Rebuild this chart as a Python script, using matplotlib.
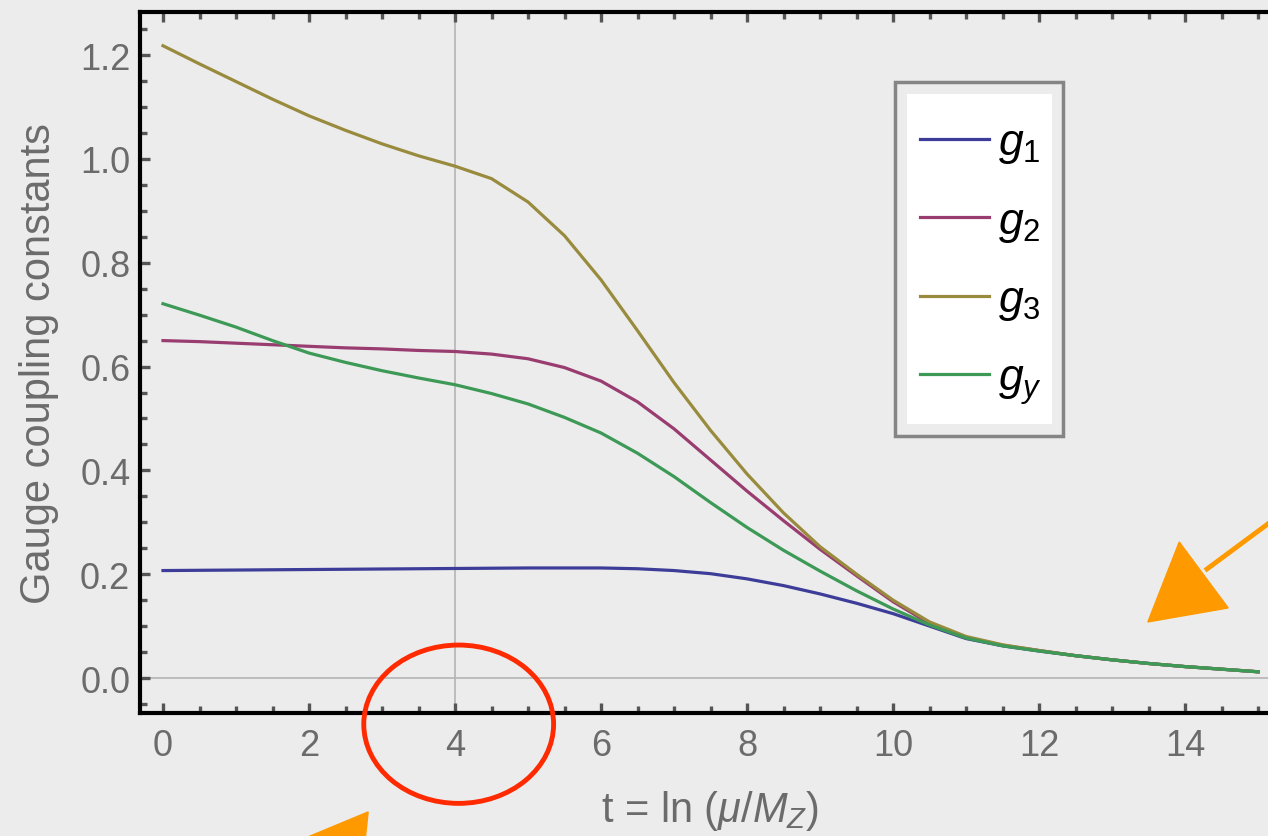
import numpy as np
import matplotlib
matplotlib.use("Agg")
import matplotlib.pyplot as plt
from matplotlib.patches import Rectangle, Ellipse, Polygon
from matplotlib.ticker import MultipleLocator

# running gauge couplings
t = [0, 0.5, 1, 1.5, 2, 2.5, 3, 3.5, 4, 4.5, 5, 5.5, 6, 6.5, 7, 7.5,
     8, 8.5, 9, 9.5, 10, 10.5, 11, 11.5, 12, 12.5, 13, 13.5, 14, 14.5, 15]
g1 = [0.207, 0.2075, 0.208, 0.2085, 0.209, 0.2095, 0.210, 0.2105, 0.211, 0.2115,
      0.212, 0.212, 0.212, 0.2105, 0.207, 0.201, 0.191, 0.178, 0.162, 0.144,
      0.124, 0.100, 0.076, 0.062, 0.052, 0.043, 0.035, 0.028, 0.022, 0.017, 0.012]
g2 = [0.650, 0.648, 0.645, 0.642, 0.639, 0.636, 0.634, 0.631, 0.629, 0.624,
      0.615, 0.598, 0.572, 0.532, 0.480, 0.420, 0.360, 0.303, 0.248, 0.197,
      0.147, 0.105, 0.078, 0.063, 0.053, 0.043, 0.035, 0.028, 0.022, 0.017, 0.012]
g3 = [1.218, 1.183, 1.149, 1.115, 1.083, 1.055, 1.029, 1.006, 0.986, 0.962,
      0.917, 0.852, 0.767, 0.669, 0.569, 0.477, 0.393, 0.318, 0.253, 0.200,
      0.150, 0.108, 0.080, 0.064, 0.053, 0.043, 0.035, 0.028, 0.022, 0.017, 0.012]
gy = [0.721, 0.699, 0.676, 0.650, 0.626, 0.608, 0.592, 0.578, 0.565, 0.548,
      0.528, 0.502, 0.472, 0.433, 0.388, 0.338, 0.290, 0.246, 0.206, 0.168,
      0.133, 0.102, 0.077, 0.062, 0.052, 0.043, 0.035, 0.028, 0.022, 0.017, 0.012]

series = [g1, g2, g3, gy]
labels = [r"$g_1$", r"$g_2$", r"$g_3$", r"$g_y$"]
colors = ["#3d3d99", "#993d71", "#998b3d", "#3d9956"]

x_ticks = [0, 2, 4, 6, 8, 10, 12, 14]
y_ticks = [0.0, 0.2, 0.4, 0.6, 0.8, 1.0, 1.2]
grid_x = 4

plt.rcParams["font.family"] = ["Liberation Sans", "DejaVu Sans"]
plt.rcParams["mathtext.fontset"] = "custom"
plt.rcParams["mathtext.rm"] = "Liberation Sans"
plt.rcParams["mathtext.it"] = "Liberation Sans:italic"

W, H = 1268, 837
fig = plt.figure(figsize=(W / 100, H / 100), dpi=100)
fig.patch.set_facecolor("#ececec")
ax = fig.add_axes([140 / W, 1 - 714 / H, 1140 / W, 701 / H])
ax.set_facecolor("none")

ax.axvline(grid_x, color="#b4b4b4", lw=1.2, zorder=1)
ax.axhline(0, color="#b4b4b4", lw=1.2, zorder=1)

for y, lab, c in zip(series, labels, colors):
    ax.plot(t, y, color=c, lw=2.3, label=lab, zorder=3, solid_joinstyle="round")

ax.set_xlim(-0.315, 15.3)
ax.set_ylim(-0.0674, 1.283)
ax.set_xticks(x_ticks)
ax.set_xticklabels([str(v) for v in x_ticks])
ax.set_yticks(y_ticks)
ax.set_yticklabels([f"{v:.1f}" for v in y_ticks])
ax.xaxis.set_minor_locator(MultipleLocator(0.5))
ax.yaxis.set_minor_locator(MultipleLocator(0.05))
ax.tick_params(which="both", direction="in", top=True, right=True,
               color="#555555", labelcolor="#6b6b6b", labelsize=26)
ax.tick_params(which="major", length=7, width=2.4)
ax.tick_params(which="minor", length=5, width=2.4)
ax.tick_params(axis="x", pad=11)
ax.tick_params(axis="y", pad=7)
for s in ax.spines.values():
    s.set_linewidth(3)
    s.set_color("black")

ax.set_xlabel(r"t = ln ($\mu$/$M_Z$)", fontsize=30, color="#6b6b6b", labelpad=18)
ax.set_ylabel("Gauge coupling constants", fontsize=30, color="#6b6b6b", labelpad=15)

# legend box: gray frame with a gap, white inner panel
ax.add_patch(Rectangle((895 / W, 1 - 437 / H), 168 / W, 354 / H, transform=fig.transFigure,
                       facecolor="none", edgecolor="#858585", lw=2.5, zorder=4, clip_on=False))
ax.add_patch(Rectangle((907 / W, 1 - 425 / H), 145 / W, 330 / H, transform=fig.transFigure,
                       facecolor="white", edgecolor="none", zorder=4, clip_on=False))
leg = ax.legend(loc="upper left", bbox_to_anchor=(898 / W, 1 - 101 / H),
                bbox_transform=fig.transFigure, frameon=False, fontsize=32,
                handlelength=1.55, handletextpad=0.2, labelspacing=0.8, borderpad=0)
leg.set_zorder(5)
for txt in leg.get_texts():
    txt.set_color("black")

# hand-drawn annotations
ax.add_patch(Ellipse((4.05, -0.089), 2.6, 0.305, facecolor="none", edgecolor="#ff2a00",
                     lw=3.5, clip_on=False, zorder=6))
ax.add_patch(Polygon([(13.49, 0.108), (13.92, 0.262), (14.59, 0.135)], closed=True,
                     facecolor="#ff9900", edgecolor="#ff9900", clip_on=False, zorder=6))
ax.plot([14.3, 15.5], [0.21, 0.335], color="#ff9900", lw=3.5, clip_on=False, zorder=6)
ax.add_patch(Polygon([(1.92, -0.31), (2.81, -0.258), (2.77, -0.31)], closed=True,
                     facecolor="#ff9900", edgecolor="#ff9900", clip_on=False, zorder=6))

fig.savefig("out.png", dpi=100, facecolor=fig.get_facecolor())
